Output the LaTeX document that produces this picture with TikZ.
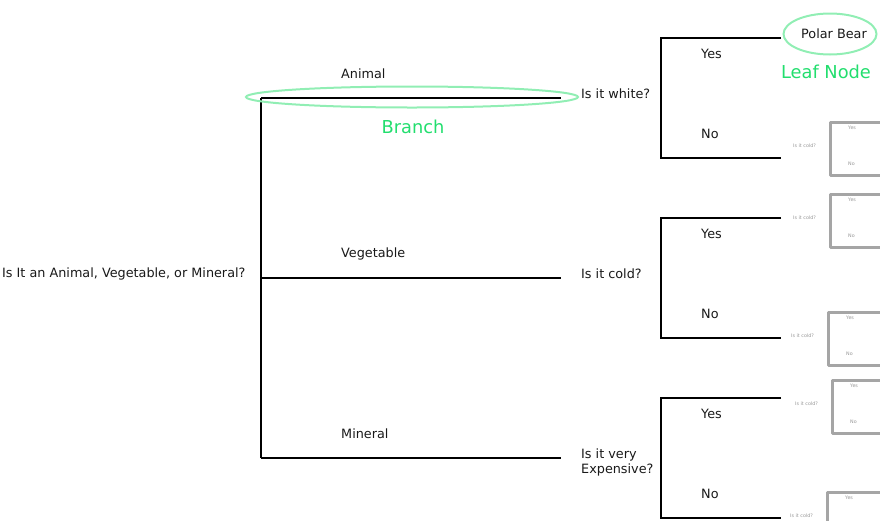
\documentclass[tikz,border=0pt]{standalone}
\usepackage{fontspec}
\usetikzlibrary{shapes.geometric}
\setmainfont{DejaVu Sans}
\definecolor{mint}{RGB}{145,238,180}
\definecolor{leafgreen}{RGB}{34,222,110}
\definecolor{faint}{RGB}{165,165,165}
\definecolor{fainttext}{RGB}{150,150,150}
\begin{document}
\begin{tikzpicture}[x=1pt,y=-1pt,
  txt/.style={font=\fontsize{12.8}{15}\selectfont, anchor=west, inner sep=0pt, text=black!90},
  gtxt/.style={font=\fontsize{17.8}{20}\selectfont, inner sep=0pt, text=leafgreen},
  ln/.style={line width=1.9pt, black},
  fln/.style={line width=3pt, faint, line cap=round, line join=round},
  ftxt/.style={font=\fontsize{4.8}{5}\selectfont, inner sep=0pt, text=fainttext, anchor=west},
  hl/.style={draw=mint, line width=2pt}]
\useasboundingbox (0,0) rectangle (880,520);
% root
\node[txt] (root) at (2,274) {Is It an Animal, Vegetable, or Mineral?};
\coordinate (vt) at (261,98);
\coordinate (vb) at (261,458);
\coordinate (vm) at (261,278);
\coordinate (ea) at (561,98);
\coordinate (ev) at (561,278);
\coordinate (em) at (561,458);
\draw[ln] (vt) -- (vb);
\draw[ln] (vt) -- (ea);
\draw[ln] (vm) -- (ev);
\draw[ln] (vb) -- (em);
\node[txt] (lanimal) at (341,74) {Animal};
\node[txt] (lveg) at (341,254) {Vegetable};
\node[txt] (lmin) at (341,434) {Mineral};
\node[txt] (qwhite) at (581,94) {Is it white?};
\node[txt] (qcold) at (581,274) {Is it cold?};
\node[txt, align=left] (qexp) at (581,462) {Is it very\\Expensive?};
% second-level brackets
\foreach \t/\n in {38/a,218/b,398/c}{
  \coordinate (t\n) at (661,\t);
  \coordinate (b\n) at (661,\t+120);
  \coordinate (te\n) at (781,\t);
  \coordinate (be\n) at (781,\t+120);
  \draw[ln] (te\n) -- (t\n) -- (b\n) -- (be\n);
  \node[txt] (yes\n) at (701,\t+16) {Yes};
  \node[txt] (no\n) at (701,\t+96) {No};
}
% faint mini trees
\foreach \bx/\tp/\n in {830/122/A,830/194/B,828/312/C,832/380/D,827/492/E}{
  \coordinate (mt\n) at (\bx,\tp);
  \coordinate (mb\n) at (\bx,\tp+53);
  \coordinate (mte\n) at (885,\tp);
  \coordinate (mbe\n) at (885,\tp+53);
  \draw[fln] (mte\n) -- (mt\n) -- (mb\n) -- (mbe\n);
  \node[ftxt] (mq\n) at (\bx-37,\tp+24) {Is it cold?};
  \node[ftxt] (my\n) at (\bx+18,\tp+6) {Yes};
}
\foreach \bx/\tp/\n in {830/122/A,830/194/B,828/312/C,832/380/D}{
  \node[ftxt] (mn\n) at (\bx+18,\tp+42) {No};
}
% highlights
\node[hl, ellipse, minimum width=332pt, minimum height=21pt, inner sep=0pt] (branchring) at (412,97) {};
\node[gtxt] (branch) at (413,127) {Branch};
\node[txt, anchor=center] (polar) at (834,34) {Polar Bear};
\node[hl, ellipse, minimum width=93pt, minimum height=41pt, inner sep=0pt] (leafring) at (830,34) {};
\node[gtxt] (leaf) at (826,72) {Leaf Node};
\end{tikzpicture}
\end{document}
